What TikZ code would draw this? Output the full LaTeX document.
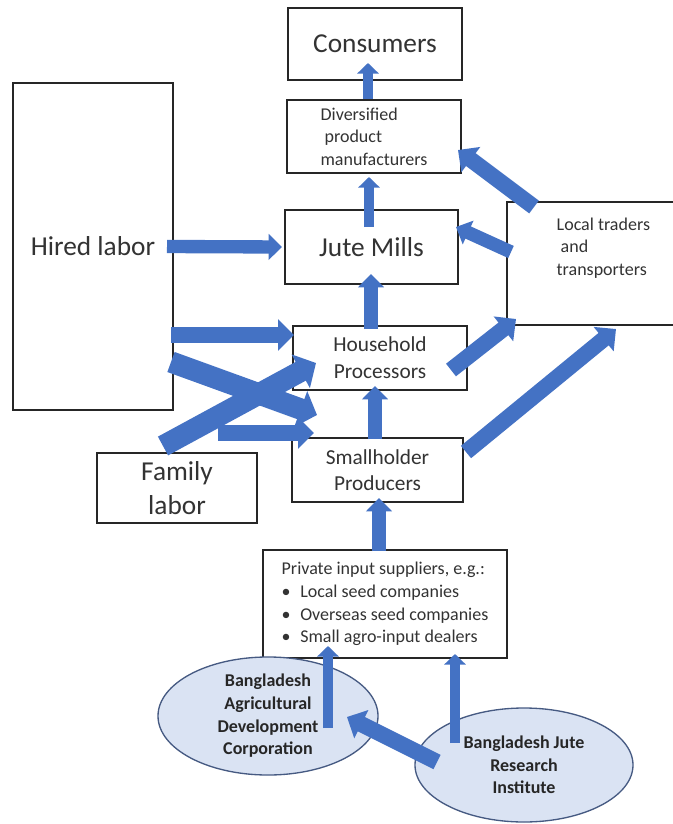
\documentclass[tikz,border=0pt]{standalone}
\usepackage{fontspec}
\setmainfont{Carlito}
\usetikzlibrary{arrows.meta,shapes.geometric,calc}
\definecolor{flowblue}{RGB}{68,114,196}
\definecolor{orgfill}{RGB}{218,227,243}
\definecolor{orgline}{RGB}{70,90,130}

\begin{document}
\begin{tikzpicture}[x=0.75pt,y=-0.75pt,
  box/.style={rectangle,draw=black!85,line width=1.5pt,fill=white,inner sep=2pt,text=black!80},
  org node/.style={ellipse,draw=orgline,fill=orgfill,line width=1pt,inner sep=0pt,align=center,
    text=black!85,font=\bfseries\fontsize{13.5}{17}\selectfont},
  bigtext/.style={font=\fontsize{20.5}{25.5}\selectfont},
  midtext/.style={font=\fontsize{16}{20}\selectfont},
  smalltext/.style={font=\fontsize{13.5}{17}\selectfont},
  thin flow/.style={draw=flowblue,line width=8pt,-{Triangle[length=8pt,width=16pt]}},
  flow/.style={draw=flowblue,line width=10pt,-{Triangle[length=10pt,width=19pt]}},
  wide flow/.style={draw=flowblue,line width=12pt,-{Triangle[length=12pt,width=23pt]}},
  heavy flow/.style={draw=flowblue,line width=16pt,-{Triangle[length=13pt,width=28pt]}}]

  \useasboundingbox (0,0) rectangle (672,824);

  % actors
  \node[box,bigtext,minimum width=130.5pt,minimum height=54pt] (cons) at (375,44) {Consumers};
  \node[box,smalltext,align=left,minimum width=130.5pt,minimum height=54.75pt] (div) at (374,136.5)
    {Diversified\\\hspace{3pt}product\\manufacturers};
  \node[box,bigtext,minimum width=129.75pt,minimum height=55.5pt] (mills) at (371.5,247) {Jute Mills};
  \node[box,minimum width=129.75pt,minimum height=92.25pt] (trade) at (593.5,263.5) {};
  \node[smalltext,align=left,anchor=west,text=black!80] (tradetxt) at (552,248)
    {Local traders\\\hspace{3pt}and\\transporters};
  \node[box,midtext,align=center,minimum width=130.5pt,minimum height=48pt] (hh) at (380,358)
    {Household\\Processors};
  \node[box,midtext,align=center,minimum width=128.25pt,minimum height=48pt] (small) at (377.5,470)
    {Smallholder\\Producers};
  \node[box,bigtext,minimum width=120pt,minimum height=245.25pt] (hired) at (93,246.5) {Hired labor};
  \node[box,bigtext,align=center,minimum width=120pt,minimum height=52.5pt] (family) at (177,488) {Family\\labor};
  \node[box,smalltext,align=left,minimum width=183pt,minimum height=81pt] (priv) at (385,604)
    {Private input suppliers, e.g.:\\
     \makebox[14pt][l]{\textbullet}Local seed companies\\
     \makebox[14pt][l]{\textbullet}Overseas seed companies\\
     \makebox[14pt][l]{\textbullet}Small agro-input dealers};
  \node[org node,minimum width=165pt,minimum height=88.5pt] (badc) at (268,716)
    {Bangladesh\\Agricultural\\Development\\Corporation};
  \node[org node,minimum width=163.5pt,minimum height=85.5pt] (bjri) at (524,765)
    {Bangladesh Jute\\Research\\Institute};

  % flows
  \draw[thin flow] ($(div.north)+(-6,0)$) -- ($(cons.south)+(-7,-18)$);
  \draw[thin flow] ($(mills.north)+(-2.5,18)$) -- ($(div.south)+(-5,3)$);
  \draw[flow] ($(hh.north)+(-9,4)$) -- ($(mills.south)+(-0.5,-11)$);
  \draw[flow] ($(small.north)+(-2.5,2)$) -- ($(hh.south)+(-5,-5)$);
  \draw[flow] ($(priv.north)+(-6,2)$) -- ($(small.south)+(1.5,-5)$);
  \draw[flow] ($(hired.east)+(-7,0)$) -- ($(mills.west)+(-2,0)$);
  \draw[wide flow] ($(hired.east)+(-3,88.5)$) -- ($(hh.west)+(2,-23)$);
  \draw[heavy flow] ($(hired.east)+(-3,115.5)$) -- ($(small.north west)+(26,-22)$);
  \draw[heavy flow] ($(family.north)+(-14,-6)$) -- ($(hh.west)+(24,5)$);
  \draw[wide flow] ($(family.north)+(41,-19)$) -- ($(small.north west)+(23,-4)$);
  \draw[wide flow] ($(hh.east)+(-17,12)$) -- ($(trade.south west)+(10,-7)$);
  \draw[wide flow] ($(small.east)+(2,-18)$) -- ($(trade.south west)+(110,3)$);
  \draw[flow] ($(trade.west)+(5,-11.5)$) -- ($(mills.east)+(-3,-20)$);
  \draw[wide flow] ($(trade.north west)+(28,6)$) -- ($(div.east)+(-4,13.5)$);
  \draw[thin flow] ($(badc.center)+(60,12)$) -- ($(priv.south)+(-57,-13)$);
  \draw[thin flow] ($(bjri.center)+(-69,-22)$) -- ($(priv.south)+(70,-5)$);
  \draw[wide flow] ($(bjri.center)+(-87,-3)$) -- ($(badc.center)+(79,1)$);

\end{tikzpicture}
\end{document}
